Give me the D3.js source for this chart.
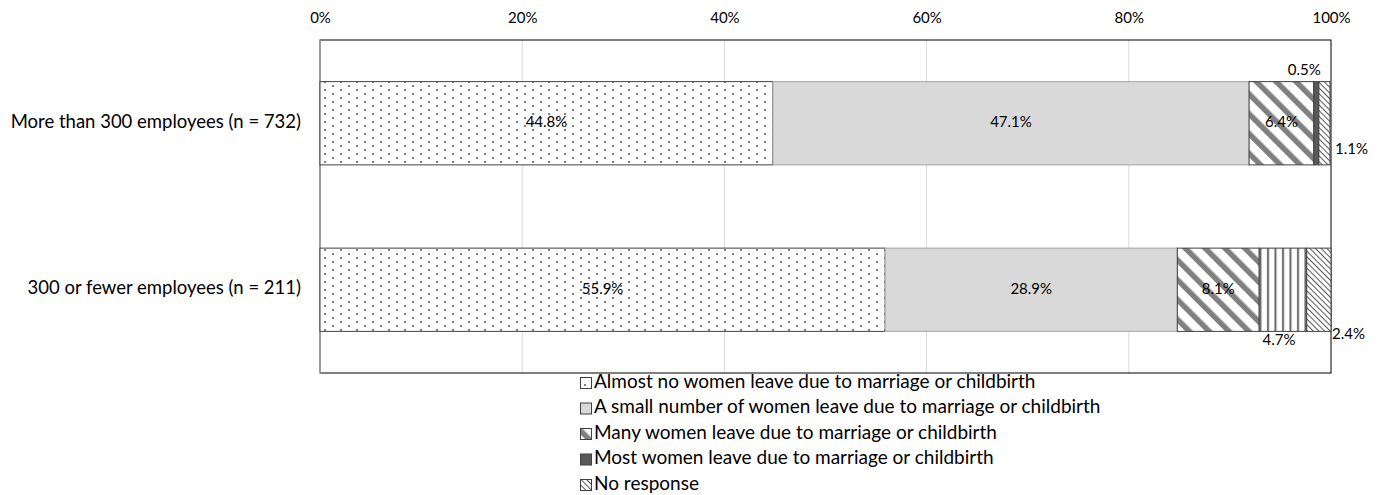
<!DOCTYPE html>
<html>
<head>
<meta charset="utf-8">
<script src="https://cdn.jsdelivr.net/npm/d3@7/dist/d3.min.js"></script>
<style>
  html, body { margin: 0; padding: 0; background: #fff; }
  svg { display: block; font-family: Lato, "Open Sans", sans-serif; }
</style>
</head>
<body>
<svg id="chart" width="1383" height="495"></svg>
<script>
// Company size groups (one bar each)
const categories = [
  "More than 300 employees (n = 732)",
  "300 or fewer employees (n = 211)"
];

// Response options, stacked left to right
const seriesNames = [
  "Almost no women leave due to marriage or childbirth",
  "A small number of women leave due to marriage or childbirth",
  "Many women leave due to marriage or childbirth",
  "Most women leave due to marriage or childbirth",
  "No response"
];

// Share of responses (%) per series, in category order
const almostNone = [44.8, 55.9];
const smallNumber = [47.1, 28.9];
const many = [6.4, 8.1];
const most = [0.5, 4.7];
const noResponse = [1.1, 2.4];

const tickValues = [0, 20, 40, 60, 80, 100];

const seriesValues = [almostNone, smallNumber, many, most, noResponse];

// ---- layout ----
const margin = { top: 40, right: 52, bottom: 122, left: 320 };
const width = 1383, height = 495;
const innerW = width - margin.left - margin.right;
const innerH = height - margin.top - margin.bottom;

const svg = d3.select("#chart");

// ---- fill patterns ----
const defs = svg.append("defs");

// staggered grey dots
const dots = defs.append("pattern").attr("id", "pDots")
  .attr("patternUnits", "userSpaceOnUse").attr("width", 16).attr("height", 8);
dots.append("rect").attr("width", 16).attr("height", 8).attr("fill", "#fff");
dots.append("rect").attr("x", 4).attr("y", 1).attr("width", 2).attr("height", 2).attr("fill", "#7f7f7f");
dots.append("rect").attr("x", 12).attr("y", 5).attr("width", 2).attr("height", 2).attr("fill", "#7f7f7f");

// wide grey downward diagonals
const wide = defs.append("pattern").attr("id", "pWide")
  .attr("patternUnits", "userSpaceOnUse").attr("width", 14).attr("height", 14)
  .attr("patternTransform", "rotate(-45)");
wide.append("rect").attr("width", 14).attr("height", 14).attr("fill", "#fff");
wide.append("rect").attr("x", 0).attr("width", 5.5).attr("height", 14).attr("fill", "#808080");

// fine dark downward diagonals
const fine = defs.append("pattern").attr("id", "pFine")
  .attr("patternUnits", "userSpaceOnUse").attr("width", 4).attr("height", 4)
  .attr("patternTransform", "rotate(-45)");
fine.append("rect").attr("width", 4).attr("height", 4).attr("fill", "#fff");
fine.append("rect").attr("x", 0).attr("width", 1).attr("height", 4).attr("fill", "#595959");

// vertical hatching
const vert = defs.append("pattern").attr("id", "pVert")
  .attr("patternUnits", "userSpaceOnUse").attr("width", 7.5).attr("height", 10);
vert.append("rect").attr("width", 7.5).attr("height", 10).attr("fill", "#fff");
vert.append("rect").attr("x", 2).attr("width", 2).attr("height", 10).attr("fill", "#666");

const seriesFill = ["url(#pDots)", "#d9d9d9", "url(#pWide)", "#595959", "url(#pFine)"];
// the smaller group's "most" segment is drawn with vertical hatching
function fillFor(si, ci) {
  if (si === 3 && ci === 1) return "url(#pVert)";
  return seriesFill[si];
}

// ---- scales ----
const x = d3.scaleLinear().domain([0, 100]).range([0, innerW]);
const y = d3.scaleBand().domain(categories).range([0, innerH]).paddingInner(0.5).paddingOuter(0.25);

const g = svg.append("g").attr("transform", `translate(${margin.left},${margin.top})`);

// gridlines
g.append("g").selectAll("line").data(tickValues.filter(t => t > 0 && t < 100)).join("line")
  .attr("x1", d => x(d)).attr("x2", d => x(d))
  .attr("y1", 0).attr("y2", innerH)
  .attr("stroke", "#d9d9d9").attr("stroke-width", 1);

// top axis labels
const axis = d3.axisTop(x).tickValues(tickValues).tickFormat(d => d + "%").tickSize(0).tickPadding(17);
const axG = g.append("g").call(axis);
axG.select(".domain").remove();
axG.selectAll("text").attr("font-size", 15).attr("fill", "#000")
  .style("font-family", "Lato, 'Open Sans', sans-serif");

// plot frame
g.append("rect").attr("x", 0).attr("y", 0).attr("width", innerW).attr("height", innerH)
  .attr("fill", "none").attr("stroke", "#000").attr("stroke-width", 1);
g.append("line").attr("x1", 0).attr("x2", 0).attr("y1", 0).attr("y2", innerH)
  .attr("stroke", "#a6a6a6").attr("stroke-width", 1.5);

// stacked segments
const stacked = categories.map((c, ci) => {
  let acc = 0;
  return seriesValues.map((vals, si) => {
    const v = vals[ci];
    const seg = { ci, si, cat: c, x0: acc, x1: acc + v, v };
    acc += v;
    return seg;
  });
}).flat();

g.append("g").selectAll("rect").data(stacked).join("rect")
  .attr("x", d => x(d.x0))
  .attr("y", d => y(d.cat))
  .attr("width", d => x(d.x1) - x(d.x0))
  .attr("height", y.bandwidth())
  .attr("fill", d => fillFor(d.si, d.ci))
  .attr("stroke", d => (d.si === 1 ? "#a6a6a6" : "#404040"))
  .attr("stroke-width", 1);

// value labels; thin segments carry their label outside the bar
function labelPos(d) {
  const top = y(d.cat), bw = y.bandwidth(), mid = (x(d.x0) + x(d.x1)) / 2;
  if (d.v >= 5) return { x: mid, y: top + bw / 2, anchor: "middle" };
  if (d.si === 3 && d.ci === 0) return { x: mid - 12, y: top - 10, anchor: "middle" };
  if (d.si === 3 && d.ci === 1) return { x: mid - 4, y: top + bw + 10, anchor: "middle" };
  if (d.si === 4 && d.ci === 0) return { x: x(d.x1) + 5, y: top + bw * 0.82, anchor: "start" };
  return { x: x(d.x1) + 1, y: top + bw + 4, anchor: "start" };
}

g.append("g").selectAll("text").data(stacked).join("text")
  .each(function (d) {
    const p = labelPos(d);
    d3.select(this).attr("x", p.x).attr("y", p.y).attr("text-anchor", p.anchor);
  })
  .attr("dominant-baseline", "middle")
  .attr("font-size", 15)
  .attr("fill", "#000")
  .text(d => d.v.toFixed(1) + "%");

// category labels
g.append("g").selectAll("text").data(categories).join("text")
  .attr("x", -19)
  .attr("y", d => y(d) + y.bandwidth() / 2)
  .attr("text-anchor", "end")
  .attr("dominant-baseline", "middle")
  .attr("font-size", 18.5)
  .attr("fill", "#000")
  .text(d => d);

// legend
const legend = svg.append("g").attr("transform", "translate(580,383)");
const item = legend.selectAll("g").data(seriesNames).join("g")
  .attr("transform", (d, i) => `translate(0,${i * 25.5})`);
item.append("rect")
  .attr("x", 0.5).attr("y", -5.5).attr("width", 11).attr("height", 11)
  .attr("fill", (d, i) => seriesFill[i])
  .attr("stroke", "#404040").attr("stroke-width", 1);
item.append("text")
  .attr("x", 14).attr("y", 0)
  .attr("dominant-baseline", "middle")
  .attr("font-size", 19)
  .attr("fill", "#000")
  .text(d => d);
</script>
</body>
</html>
